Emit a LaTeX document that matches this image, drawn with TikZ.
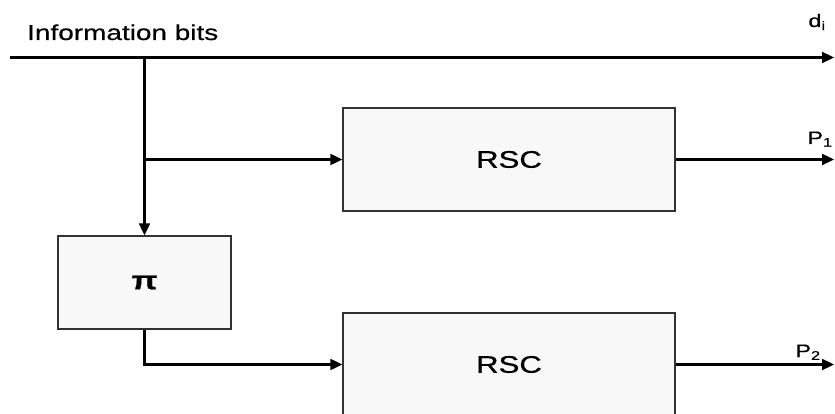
\documentclass[tikz,border=0pt]{standalone}
\usepackage{fontspec}
\usepackage{tikz}
\usetikzlibrary{arrows.meta,positioning,calc}
\newfontfamily\labelfont[FakeStretch=1.3,FakeBold=0.6]{Liberation Sans}
\definecolor{boxline}{RGB}{50, 50, 50}
\definecolor{boxbg}{RGB}{248, 248, 248}

\begin{document}
\begin{tikzpicture}[
    x=1pt, y=-1pt,
    >={Triangle[length=12pt,width=11pt]},
    encbox/.style={draw=boxline, line width=1.4pt, fill=boxbg, inner sep=0pt, font=\labelfont\fontsize{24}{28}\selectfont},
    arrow/.style={->, line width=2.2pt, black},
    sigtext/.style={font=\labelfont\fontsize{18}{20}\selectfont, inner sep=0pt}
]
    \useasboundingbox (0,0) rectangle (835,414);

    % Encoder blocks
    \node[encbox, minimum width=332pt, minimum height=103pt] (rsc1) at (509,159.5) {RSC};
    \node[encbox, minimum width=332pt, minimum height=103pt] (rsc2) at (509,364.5) {RSC};
    \node[encbox, minimum width=173pt, minimum height=93pt, font=\labelfont\bfseries\fontsize{26}{28}\selectfont] (intl) at (144.5,282.5) {π};

    % Input and output ends
    \coordinate (src) at (10,57.5);
    \coordinate (dout) at (834,57.5);
    \coordinate (tap) at (intl.north |- src);
    \coordinate (p1out) at (834,159.5);
    \coordinate (p2out) at (834,364.5);

    % Labels
    \node[sigtext, font=\labelfont\fontsize{21.5}{24}\selectfont, anchor=base west] (info) at (27,40) {Information bits};
    \node[sigtext, anchor=base] (dlbl) at (817,27) {d\textsubscript{i}};
    \node[sigtext, anchor=base] (p1lbl) at (820,144) {P\textsubscript{1}};
    \node[sigtext, anchor=base] (p2lbl) at (808,357) {P\textsubscript{2}};

    % Connections
    \draw[arrow] (src) -- (dout);
    \draw[arrow] (tap) -- (intl.north);
    \draw[arrow] (tap |- rsc1.west) -- (rsc1.west);
    \draw[arrow] (intl.south) |- (rsc2.west);
    \draw[arrow] (rsc1.east) -- (p1out);
    \draw[arrow] (rsc2.east) -- (p2out);

\end{tikzpicture}
\end{document}
